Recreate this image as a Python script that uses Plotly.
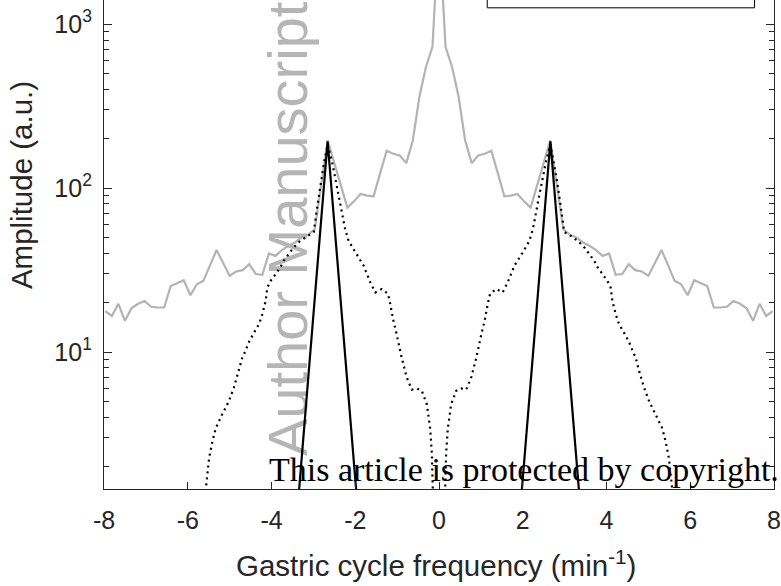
import plotly.graph_objects as go

# ---------------- data ----------------
freq = [-7.969, -7.8125, -7.656, -7.5, -7.344, -7.1875, -7.031, -6.875, -6.719, -6.5625,
        -6.406, -6.25, -6.094, -5.9375, -5.781, -5.625, -5.469, -5.3125, -5.156, -5.0,
        -4.844, -4.6875, -4.531, -4.375, -4.219, -4.0625, -3.906, -3.75, -3.594, -3.4375,
        -3.281, -3.125, -2.969, -2.8125, -2.656, -2.5, -2.344, -2.1875, -2.031, -1.875,
        -1.719, -1.5625, -1.406, -1.25, -1.094, -0.9375, -0.781, -0.625, -0.469, -0.3125,
        -0.156, 0.0,
        0.156, 0.3125, 0.469, 0.625, 0.781, 0.9375, 1.094, 1.25, 1.406, 1.5625,
        1.719, 1.875, 2.031, 2.1875, 2.344, 2.5, 2.656, 2.8125, 2.969, 3.125,
        3.281, 3.4375, 3.594, 3.75, 3.906, 4.0625, 4.219, 4.375, 4.531, 4.6875,
        4.844, 5.0, 5.156, 5.3125, 5.469, 5.625, 5.781, 5.9375, 6.094, 6.25,
        6.406, 6.5625, 6.719, 6.875, 7.031, 7.1875, 7.344, 7.5, 7.656, 7.8125, 7.969]

spectrum = [17.8, 16.6, 19.7, 15.5, 18.5, 19.7, 20.5, 18.9, 18.7, 18.7,
            25.3, 26.3, 27.4, 22.2, 25.9, 27.2, 34.0, 41.9, 35.0, 29.2,
            31.0, 31.6, 34.4, 29.9, 29.6, 39.9, 38.6, 41.9, 44.5, 46.6,
            50, 52, 56, 105, 195, 142, 104, 76, 83, 92,
            90, 89, 123, 169, 162, 158, 142, 195, 359, 548,
            727, 4000,
            727, 548, 359, 195, 142, 158, 162, 169, 123, 89,
            90, 92, 83, 76, 104, 142, 195, 105, 56, 52,
            50, 46.6, 44.5, 41.9, 38.6, 39.9, 29.6, 29.9, 34.4, 31.6,
            31.0, 29.2, 35.0, 41.9, 34.0, 27.2, 25.9, 22.2, 27.4, 26.3,
            25.3, 18.7, 18.7, 18.9, 20.5, 19.7, 18.5, 15.5, 19.7, 16.6, 17.8]

filt_freq = [-5.62, -5.49, -5.41, -5.33, -5.18, -5.02, -4.90, -4.78, -4.70, -4.62,
             -4.54, -4.42, -4.30, -4.22, -4.14, -4.10, -4.02, -3.90, -3.79, -3.71,
             -3.59, -3.47, -3.31, -3.15, -2.99, -2.91, -2.83, -2.75, -2.66, -2.56,
             -2.48, -2.40, -2.32, -2.25, -2.16, -2.00, -1.80, -1.64, -1.52, -1.37,
             -1.22, -1.17, -1.10, -1.01, -0.89, -0.77, -0.65, -0.53, -0.41, -0.29,
             -0.21, -0.17, 0.0,
             0.17, 0.21, 0.29, 0.41, 0.53, 0.65, 0.77, 0.89, 1.01, 1.10,
             1.17, 1.22, 1.37, 1.52, 1.64, 1.80, 2.00, 2.16, 2.25, 2.32,
             2.40, 2.48, 2.56, 2.66, 2.75, 2.83, 2.91, 2.99, 3.15, 3.31,
             3.47, 3.59, 3.71, 3.79, 3.90, 4.02, 4.10, 4.14, 4.22, 4.30,
             4.42, 4.54, 4.62, 4.70, 4.78, 4.90, 5.02, 5.18, 5.33, 5.41,
             5.49, 5.62]
filtered = [1.1, 2.26, 2.86, 3.44, 4.16, 5.0, 6.05, 7.65, 9.2, 10.2,
            11.5, 13.1, 14.8, 17.0, 20.5, 24.7, 27.2, 29.9, 32.8, 36.0,
            39.6, 43.5, 47.7, 51, 54, 76, 106, 141, 185, 147,
            116, 92, 72.8, 57.5, 47.7, 40.5, 33.6, 26.6, 23.1, 24.2,
            22.7, 20.0, 16.0, 12.8, 9.2, 7.0, 5.9, 6.0, 5.8, 4.8,
            3.4, 2.4, 0.05,
            2.4, 3.4, 4.8, 5.8, 6.0, 5.9, 7.0, 9.2, 12.8, 16.0,
            20.0, 22.7, 24.2, 23.1, 26.6, 33.6, 40.5, 47.7, 57.5, 72.8,
            92, 116, 147, 185, 141, 106, 76, 54, 51, 47.7,
            43.5, 39.6, 36.0, 32.8, 29.9, 27.2, 24.7, 20.5, 17.0, 14.8,
            13.1, 11.5, 10.2, 9.2, 7.65, 6.05, 5.0, 4.16, 3.44, 2.86,
            2.26, 1.1]

model_freq = [-3.42, -2.66, -1.90, None, 1.90, 2.66, 3.42]
model = [0.82, 193, 0.82, None, 0.82, 193, 0.82]

x_ticks = [-8, -6, -4, -2, 0, 2, 4, 6, 8]
x_ticktext = ["-8", "-6", "-4", "-2", "0", "2", "4", "6", "8"]
y_ticks = [10, 100, 1000]
y_ticktext = ["10<sup>1</sup>", "10<sup>2</sup>", "10<sup>3</sup>"]
y_minor_ticks = [2, 3, 4, 5, 6, 7, 8, 9,
                 20, 30, 40, 50, 60, 70, 80, 90,
                 200, 300, 400, 500, 600, 700, 800, 900]

# ---------------- figure ----------------
SANS = "Liberation Sans, Arial, Helvetica, sans-serif"
AX = "#262626"
Y_RANGE = [0.165, 3.147]

fig = go.Figure()
fig.add_trace(go.Scatter(x=freq, y=spectrum, mode="lines",
                         line=dict(color="#b3b3b3", width=2.2), showlegend=False))
fig.add_trace(go.Scatter(x=filt_freq, y=filtered, mode="lines",
                         line=dict(color="black", width=2.2, dash="2px,4px"), showlegend=False))
fig.add_trace(go.Scatter(x=model_freq, y=model, mode="lines", connectgaps=False,
                         line=dict(color="black", width=2.2), showlegend=False))

fig.update_layout(
    width=781, height=586, autosize=False,
    margin=dict(l=104, r=5, t=0, b=97, pad=0),
    paper_bgcolor="white", plot_bgcolor="white",
    font=dict(family=SANS, color=AX),
)
fig.update_xaxes(range=[-8, 8], tickmode="array", tickvals=x_ticks, ticktext=x_ticktext,
                 ticks="inside", ticklen=7, tickwidth=1.2, tickcolor=AX,
                 showline=True, linecolor=AX, linewidth=1.2, mirror=False,
                 showgrid=False, zeroline=False, ticklabeloverflow="allow",
                 tickfont=dict(size=25, family=SANS, color=AX), ticklabelstandoff=9)
fig.update_yaxes(type="log", range=Y_RANGE, tickmode="array",
                 tickvals=y_ticks, ticktext=y_ticktext,
                 ticks="inside", ticklen=8, tickwidth=1.2, tickcolor=AX,
                 minor=dict(ticks="inside", ticklen=5, tickwidth=1.2, tickcolor=AX,
                            tickmode="array", tickvals=y_minor_ticks, showgrid=False),
                 showline=True, linecolor=AX, linewidth=1.2, mirror="allticks",
                 showgrid=False, zeroline=False, ticklabeloverflow="allow",
                 tickfont=dict(size=25, family=SANS, color=AX), ticklabelstandoff=6)

# watermark beneath the traces
fig.add_shape(type="rect", xref="paper", yref="paper",
              x0=0.25, x1=0.282, y0=0.50, y1=0.564,
              line=dict(width=0), fillcolor="rgba(0,0,0,0)", layer="below",
              label=dict(text="Author Manuscript", textangle=-90,
                         textposition="middle center",
                         font=dict(size=56, family=SANS, color="#b5b5b5")))

# legend box (only its lower edge is visible)
fig.add_shape(type="rect", xref="paper", yref="paper",
              x0=0.572, x1=0.971, y0=0.984, y1=1.3,
              line=dict(color="black", width=1), fillcolor="white", layer="above")

# axis titles
fig.add_annotation(text="Amplitude (a.u.)", xref="paper", yref="paper",
                   x=-0.122, y=0.622, textangle=-90, showarrow=False,
                   xanchor="center", yanchor="middle",
                   font=dict(size=29.5, family=SANS, color=AX))
fig.add_annotation(text="Gastric cycle frequency (min<sup>-1</sup>)", xref="paper", yref="paper",
                   x=0.496, y=-0.152, showarrow=False, xanchor="center", yanchor="middle",
                   font=dict(size=29.5, family=SANS, color=AX))

# copyright notice
fig.add_annotation(text="This article is protected by copyright.", xref="paper", yref="paper",
                   x=0.244, y=0.039, showarrow=False, xanchor="left", yanchor="middle",
                   font=dict(size=34, family="Liberation Serif, Times New Roman, serif", color="black"))

fig.write_html("out.html")
